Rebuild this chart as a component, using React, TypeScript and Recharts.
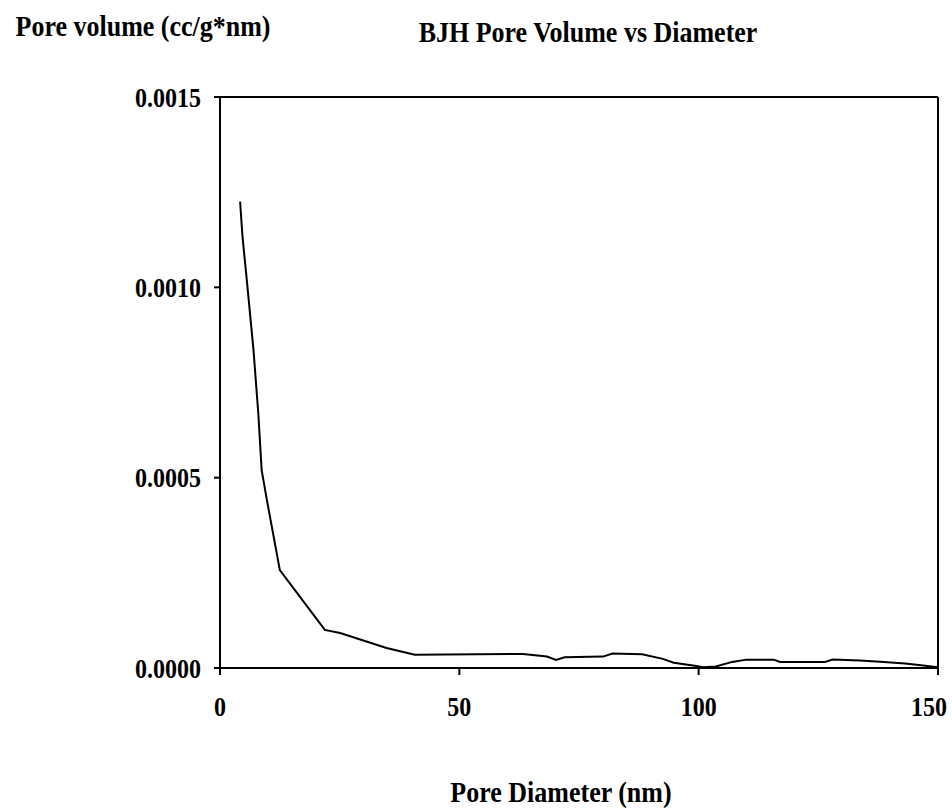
import { LineChart, Line, XAxis, YAxis, ReferenceLine } from 'recharts';

// BJH pore size distribution: diameter (nm) vs. pore volume (cc/g*nm)
const diameters = [
    4.2, 4.7, 5.6, 7.0, 8.0, 8.7, 9.8, 12.5, 21.9, 25.1, 34.8, 40.7,
    63.3, 68.3, 70.2, 72.0, 80.0, 82.0, 88.2, 92.5, 94.8, 99.2, 101.0,
    103.6, 107.0, 110.0, 115.7, 117.0, 126.4, 128.0, 133.7, 138.7, 143.1, 146.0, 150.0,
];
const poreVolumes = [
    0.001225, 0.001133, 0.001019, 0.000835, 0.000669, 0.00052, 0.000441, 0.000257,
    0.0001, 0.000092, 0.0000525, 0.000035,
    0.000037, 0.00003, 0.000021, 0.000028, 0.00003, 0.000038, 0.000036, 0.000024,
    0.000014, 0.000006, 0.000002, 0.000004, 0.000016, 0.000022, 0.000022, 0.000016,
    0.000016, 0.000022, 0.00002, 0.000016, 0.000012, 0.000008, 0.000002,
];
const xTicks = [0, 50, 100, 150];
const yTicks = [0, 0.0005, 0.001, 0.0015];

const data = diameters.map((d, i) => ({ diameter: d, volume: poreVolumes[i] }));

const FONT = '"Liberation Serif", "Times New Roman", serif';
const STRETCH = 1.15;

function YTick({ x, y, payload }: any) {
    return (
        <text
            transform={`translate(${x},${y}) scale(1,${STRETCH})`}
            textAnchor="end"
            dy="0.35em"
            fontFamily={FONT}
            fontWeight="bold"
            fontSize={24}
            fill="#000"
        >
            {Number(payload.value).toFixed(4)}
        </text>
    );
}

function XTick({ x, y, payload }: any) {
    // keep the last label inside the frame
    const shift = payload.value === xTicks[xTicks.length - 1] ? -9 : 0;
    return (
        <text
            transform={`translate(${x + shift},${y}) scale(1,${STRETCH})`}
            textAnchor="middle"
            dy="0.72em"
            fontFamily={FONT}
            fontWeight="bold"
            fontSize={24}
            fill="#000"
        >
            {payload.value}
        </text>
    );
}

function Caption({ x, y, children }: { x: number; y: number; children: string }) {
    return (
        <text
            transform={`translate(${x},${y}) scale(1,${STRETCH})`}
            textAnchor="middle"
            fontFamily={FONT}
            fontWeight="bold"
            fontSize={26}
            fill="#000"
        >
            {children}
        </text>
    );
}

export default function App() {
    return (
        <div style={{ position: 'absolute', left: 0, top: 0, width: 952, height: 810, background: '#fff' }}>
            <LineChart
                width={952}
                height={810}
                data={data}
                margin={{ top: 97, right: 14, left: 120, bottom: 82 }}
            >
                <XAxis
                    dataKey="diameter"
                    type="number"
                    domain={[0, 150]}
                    ticks={xTicks}
                    height={60}
                    stroke="#000"
                    strokeWidth={2}
                    tickSize={7}
                    tickMargin={21}
                    tick={<XTick />}
                />
                <YAxis
                    type="number"
                    domain={[0, 0.0015]}
                    ticks={yTicks}
                    width={100}
                    stroke="#000"
                    strokeWidth={2}
                    tickSize={6}
                    tickMargin={13}
                    tick={<YTick />}
                />
                <ReferenceLine y={0.0015} stroke="#000" strokeWidth={2} ifOverflow="visible" />
                <ReferenceLine x={150} stroke="#000" strokeWidth={2} ifOverflow="visible" />
                <Line
                    type="linear"
                    dataKey="volume"
                    stroke="#000"
                    strokeWidth={2}
                    dot={false}
                    isAnimationActive={false}
                />
            </LineChart>
            <svg
                width={952}
                height={810}
                style={{ position: 'absolute', left: 0, top: 0, pointerEvents: 'none' }}
            >
                <Caption x={143} y={36}>Pore volume (cc/g*nm)</Caption>
                <Caption x={588} y={42}>BJH Pore Volume vs Diameter</Caption>
                <Caption x={561} y={802}>Pore Diameter (nm)</Caption>
            </svg>
        </div>
    );
}
